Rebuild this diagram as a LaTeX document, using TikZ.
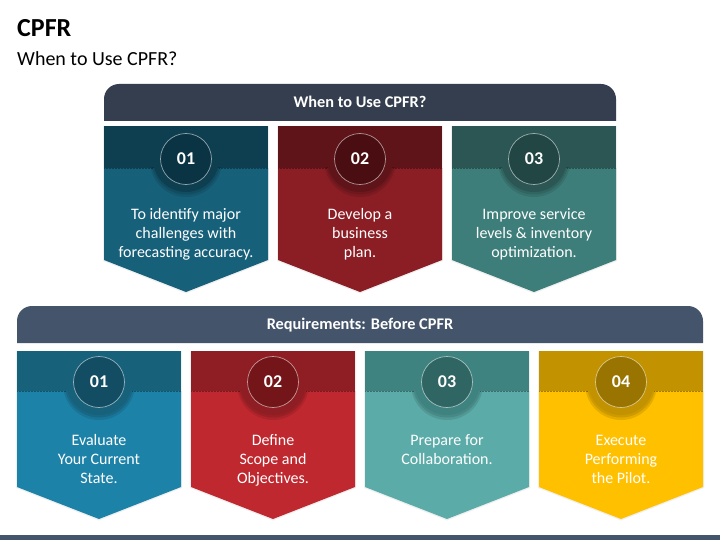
\documentclass[tikz,border=0pt]{standalone}
\usepackage{fontspec}
\setmainfont{Carlito}
\definecolor{hdrA}{HTML}{343E4E}
\definecolor{hdrB}{HTML}{44546A}
\definecolor{tAband}{HTML}{0E3F51}\definecolor{tAbody}{HTML}{17607A}\definecolor{tAcirc}{HTML}{0A3343}
\definecolor{tBband}{HTML}{5F1419}\definecolor{tBbody}{HTML}{8B1E25}\definecolor{tBcirc}{HTML}{4A0E12}
\definecolor{tCband}{HTML}{2B5653}\definecolor{tCbody}{HTML}{3E7E7A}\definecolor{tCcirc}{HTML}{224644}
\definecolor{bAband}{HTML}{17617B}\definecolor{bAbody}{HTML}{1D82A8}\definecolor{bAcirc}{HTML}{124D63}
\definecolor{bBband}{HTML}{8E1D24}\definecolor{bBbody}{HTML}{C0282F}\definecolor{bBcirc}{HTML}{731519}
\definecolor{bCband}{HTML}{3F8380}\definecolor{bCbody}{HTML}{5BABA8}\definecolor{bCcirc}{HTML}{2F6562}
\definecolor{bDband}{HTML}{C29200}\definecolor{bDbody}{HTML}{FFC000}\definecolor{bDcirc}{HTML}{9A7400}
\tikzset{
  numcirc/.style={circle, minimum size=51pt, inner sep=0pt, draw=white, draw opacity=0.55, line width=0.7pt,
    text=white, font=\bfseries\fontsize{18}{21}\selectfont},
  cardtext/.style={align=center, text=white, inner sep=0pt, anchor=base, font=\fontsize{16}{19.2}\selectfont},
  hdrtext/.style={text=white, anchor=base, font=\bfseries\fontsize{16.3}{19}\selectfont}
}
% #1 name, #2 center x, #3 top y, #4 band bottom y, #5 side bottom y, #6 colour prefix, #7 number, #8 text, #9 last baseline
\newcommand\cpfrcard[9]{%
  \fill[black, opacity=0.06] (#2-83,#3) -- (#2+83,#3) -- (#2+83,#5+1) -- (#2,#5+33.5) -- (#2-83,#5+1) -- cycle;
  \fill[#6body] (#2-82,#4) -- (#2+82,#4) -- (#2+82,#5) -- (#2,#5+32) -- (#2-82,#5) -- cycle;
  \fill[#6band] (#2-82,#3) rectangle (#2+82,#4);
  \begin{scope}
    \clip (#2-82,#4) rectangle (#2+82,#4+45);
    \fill[black, opacity=0.10] (#2,#4-7) circle[radius=36pt];
    \fill[black, opacity=0.10] (#2,#4-8) circle[radius=34.5pt];
    \fill[#6band] (#2,#4-9) circle[radius=33pt];
  \end{scope}
  \draw[black, opacity=0.35, densely dotted, line width=0.5pt] (#2-82,#4) -- (#2-33,#4);
  \draw[black, opacity=0.35, densely dotted, line width=0.5pt] (#2+33,#4) -- (#2+82,#4);
  \node[numcirc, fill=#6circ] (#1) at (#2,#4-9) {#7};
  \node[cardtext] (#1txt) at (#2,#9) {#8};
}
\begin{document}
\begin{tikzpicture}[x=1pt, y=-1pt]
\useasboundingbox (0,0) rectangle (720,540);
\fill[white] (0,0) rectangle (720,540);
\node[anchor=base west, inner sep=0pt, font=\bfseries\fontsize{26}{30}\selectfont] (title) at (17,37) {CPFR};
\node[anchor=base west, inner sep=0pt, font=\fontsize{20}{24}\selectfont] (subtitle) at (17,65.5) {When to Use CPFR?};
% top header
\fill[hdrA] (104,121) [rounded corners=15pt] -- (104,84) -- (616,84) [sharp corners] -- (616,121) -- cycle;
\node[hdrtext] (hdrtop) at (360,107.5) {When to Use CPFR?};
% bottom header
\fill[hdrB] (17,343) [rounded corners=15pt] -- (17,306) -- (703,306) [sharp corners] -- (703,343) -- cycle;
\node[hdrtext] (hdrbot) at (360,329.5) {Requirements: Before CPFR};
% top cards
\cpfrcard{t1}{186}{126}{168}{260}{tA}{01}{To identify major\\challenges with\\forecasting accuracy.}{257.5}
\cpfrcard{t2}{360}{126}{168}{260}{tB}{02}{Develop a\\business\\plan.}{257.5}
\cpfrcard{t3}{534}{126}{168}{260}{tC}{03}{Improve service\\levels \& inventory\\optimization.}{257.5}
% bottom cards
\cpfrcard{b1}{99}{351}{391}{487}{bA}{01}{Evaluate\\Your Current\\State.}{483.5}
\cpfrcard{b2}{273}{351}{391}{487}{bB}{02}{Define\\Scope and\\Objectives.}{483.5}
\cpfrcard{b3}{447}{351}{391}{487}{bC}{03}{Prepare for\\Collaboration.}{464.5}
\cpfrcard{b4}{621}{351}{391}{487}{bD}{04}{Execute\\Performing\\the Pilot.}{483.5}
% bottom strip
\fill[hdrB] (0,535) rectangle (720,540);
\end{tikzpicture}
\end{document}
